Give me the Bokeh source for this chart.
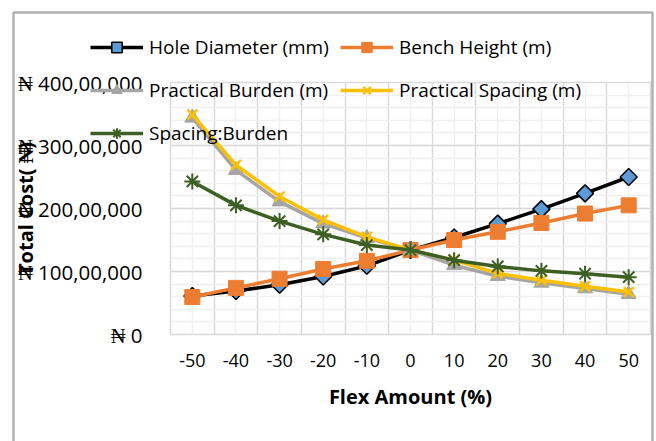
from bokeh.plotting import figure
from bokeh.layouts import column
from bokeh.models import (Range1d, FixedTicker, Legend, LegendItem, BoxAnnotation)
from bokeh.embed import file_html
from bokeh.resources import INLINE

# ---- data ----
flex = [-50, -40, -30, -20, -10, 0, 10, 20, 30, 40, 50]
x_tick_labels = ["-50", "-40", "-30", "-20", "-10", "0", "10", "20", "30", "40", "50"]
hole_diameter = [6.1e6, 6.9e6, 7.9e6, 9.2e6, 10.9e6, 13.4e6, 15.4e6, 17.6e6, 19.9e6, 22.4e6, 25.0e6]
bench_height = [5.95e6, 7.4e6, 8.85e6, 10.4e6, 11.7e6, 13.4e6, 15.0e6, 16.3e6, 17.7e6, 19.2e6, 20.5e6]
practical_burden = [34.4e6, 26.1e6, 21.1e6, 17.6e6, 15.3e6, 13.4e6, 11.0e6, 9.25e6, 8.2e6, 7.3e6, 6.4e6]
practical_spacing = [34.9e6, 26.9e6, 21.9e6, 18.2e6, 15.5e6, 13.4e6, 11.8e6, 9.7e6, 8.6e6, 7.65e6, 6.75e6]
spacing_burden = [24.3e6, 20.5e6, 18.0e6, 15.9e6, 14.2e6, 13.4e6, 11.8e6, 10.8e6, 10.1e6, 9.65e6, 9.1e6]
y_ticks = [0, 1e7, 2e7, 3e7, 4e7]
y_tick_labels = ["₦ 0", "₦ 100,00,000", "₦ 200,00,000", "₦ 300,00,000", "₦ 400,00,000"]
series_names = ["Hole Diameter (mm)", "Bench Height (m)", "Practical Burden (m)",
                "Practical Spacing (m)", "Spacing:Burden"]

FONT = "Open Sans"
W, H = 656, 441

p = figure(width=W, height=H, output_backend="svg", toolbar_location=None,
           x_range=Range1d(-55, 55), y_range=Range1d(0, 4e7),
           min_border_left=170, min_border_right=6, min_border_top=82, min_border_bottom=107)
p.outline_line_color = "#d9d9d9"
p.outline_line_width = 1.5
p.background_fill_color = "white"
p.border_fill_color = "white"

# grids
bounds = [c - 5 for c in flex] + [flex[-1] + 5]
p.xgrid.ticker = FixedTicker(ticks=bounds, minor_ticks=flex)
p.xgrid.grid_line_color = "#d9d9d9"
p.xgrid.grid_line_width = 1.5
p.xgrid.minor_grid_line_color = "#f0f0f0"
p.xgrid.minor_grid_line_width = 1.5
minor_y = [i * 2e6 for i in range(21)]
p.ygrid.ticker = FixedTicker(ticks=y_ticks, minor_ticks=minor_y)
p.ygrid.grid_line_color = "#d9d9d9"
p.ygrid.grid_line_width = 1.5
p.ygrid.minor_grid_line_color = "#f0f0f0"
p.ygrid.minor_grid_line_width = 1.5

# axes
xa = p.xaxis[0]
xa.ticker = FixedTicker(ticks=flex)
xa.major_label_overrides = {f: l for f, l in zip(flex, x_tick_labels)}
xa.axis_line_color = None
xa.major_tick_line_color = None
xa.minor_tick_line_color = None
xa.major_label_text_font = FONT
xa.major_label_text_font_size = "18px"
xa.major_label_text_color = "black"
xa.major_label_standoff = 13
xa.axis_label = "Flex Amount (%)"
xa.axis_label_text_font = FONT
xa.axis_label_text_font_size = "20px"
xa.axis_label_text_font_style = "bold"
xa.axis_label_text_color = "black"
xa.axis_label_standoff = 13

ya = p.yaxis[0]
ya.ticker = FixedTicker(ticks=y_ticks)
ya.major_label_overrides = {t: l for t, l in zip(y_ticks, y_tick_labels)}
ya.axis_line_color = None
ya.major_tick_line_color = None
ya.minor_tick_line_color = None
ya.major_label_text_font = FONT
ya.major_label_text_font_size = "20.5px"
ya.major_label_text_color = "black"
ya.major_label_standoff = 22
ya.axis_label = "Total Cost( ₦)"
ya.axis_label_text_font = FONT
ya.axis_label_text_font_size = "20px"
ya.axis_label_text_font_style = "bold"
ya.axis_label_text_color = "black"
ya.axis_label_standoff = -24

LW = 3.5
STYLES = [
    dict(line=dict(line_color="black"),
         mark=dict(marker="square", angle=0.785398, size=12, fill_color="#5B9BD5",
                   line_color="black", line_width=1.5)),
    dict(line=dict(line_color="#ED7D31"),
         mark=dict(marker="square", size=15, fill_color="#ED7D31", line_color="#ED7D31")),
    dict(line=dict(line_color="#A5A5A5"),
         mark=dict(marker="triangle", size=15, fill_color="#A5A5A5", line_color="#A5A5A5")),
    dict(line=dict(line_color="#FFC000"),
         mark=dict(marker="x", size=14, line_color="#FFC000", line_width=2.5)),
    dict(line=dict(line_color="#3E5F24"),
         mark=dict(marker="asterisk", size=16, line_color="#3E5F24", line_width=2)),
]
series = [hole_diameter, bench_height, practical_burden, practical_spacing, spacing_burden]

for ys, st in zip(series, STYLES):
    p.line(flex, ys, line_width=LW, **st["line"])
    p.scatter(flex, ys, **st["mark"])

# ---- transparent overlay figure holding the legend and chart border ----
q = figure(width=W, height=H, output_backend="svg", toolbar_location=None,
           x_range=Range1d(-55, 55), y_range=Range1d(0, 4e7),
           x_axis_type=None, y_axis_type=None,
           min_border_left=0, min_border_right=0, min_border_top=0, min_border_bottom=0,
           styles={"position": "absolute", "top": "0px", "left": "0px"})
q.grid.visible = False
q.outline_line_color = None
q.background_fill_alpha = 0
q.border_fill_alpha = 0
for fig in (p, q):
    try:
        fig.frame_align = False
    except Exception:
        pass

items = []
for name, ys, st in zip(series_names, series, STYLES):
    rl = q.line(flex, ys, line_width=LW, visible=False, **st["line"])
    rs = q.scatter(flex, ys, visible=False, **st["mark"])
    items.append(LegendItem(label=name, renderers=[rl, rs]))

def make_legend(its, loc):
    return Legend(items=its, location=loc, orientation="vertical",
                  glyph_width=53, glyph_height=26, label_height=26, spacing=17,
                  label_standoff=6, padding=0, margin=0,
                  border_line_color=None, background_fill_alpha=0,
                  inactive_fill_alpha=0,
                  label_text_font=FONT, label_text_font_size="19px",
                  label_text_color="black")

q.add_layout(make_legend([items[0], items[2], items[4]], (90, H - 146)))
q.add_layout(make_legend([items[1], items[3]], (340, H - 103)))

border = BoxAnnotation(left=13, right=652, top=12, bottom=470,
                       left_units="canvas", right_units="canvas",
                       top_units="canvas", bottom_units="canvas",
                       fill_alpha=0, line_color="black", line_width=2.5)
q.add_layout(border)

root = column(p, q)
open("out.html", "w").write(file_html(root, INLINE))
